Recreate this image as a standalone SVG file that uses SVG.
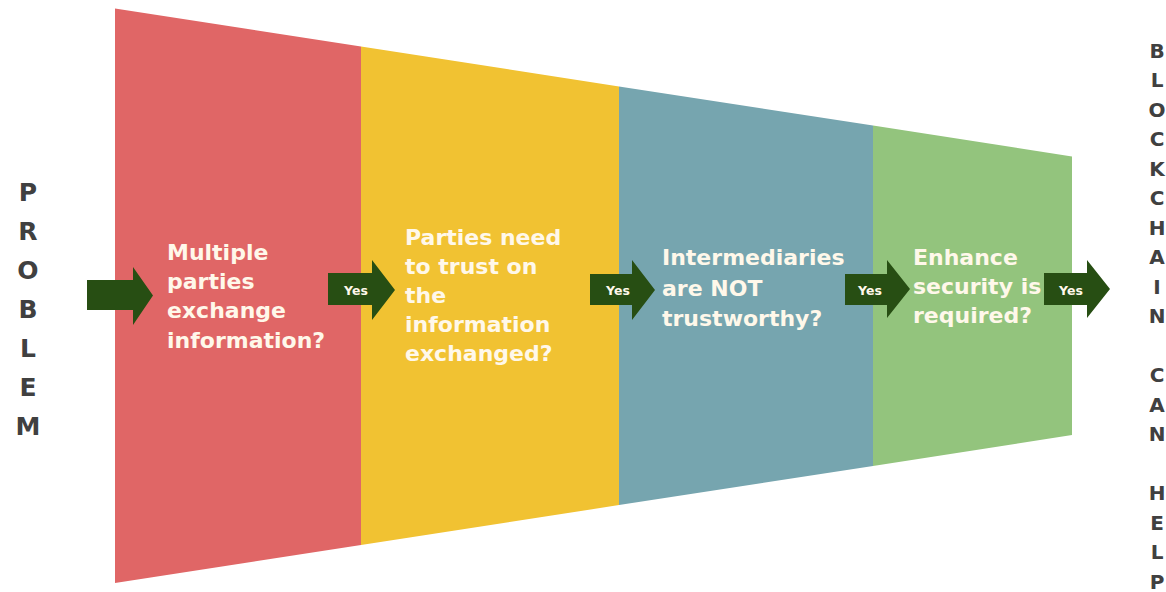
<svg xmlns="http://www.w3.org/2000/svg" width="1166" height="592" viewBox="0 0 1166 592">
<style>
.q{font-family:"DejaVu Sans","Liberation Sans",sans-serif;font-weight:bold;font-size:22px;fill:#FFF8EA}
.y{font-family:"DejaVu Sans","Liberation Sans",sans-serif;font-weight:bold;font-size:12.5px;fill:#FFF8EA;text-anchor:middle}
.side{font-family:"DejaVu Sans","Liberation Sans",sans-serif;font-weight:bold;fill:#404040;text-anchor:middle}
.arr{fill:#274E13}
</style>
<rect width="1166" height="592" fill="#ffffff"/>
<g id="stage1">
<polygon points="115,8.5 361,46.5 361,545 115,583" fill="#E06666"/>
<text class="q" x="167"><tspan x="167" y="260">Multiple</tspan><tspan x="167" y="289">parties</tspan><tspan x="167" y="318">exchange</tspan><tspan x="167" y="348">information?</tspan></text>
</g>
<g id="stage2">
<polygon points="361,46.5 619,86.4 619,505.1 361,545" fill="#F1C232"/>
<text class="q"><tspan x="405" y="245">Parties need</tspan><tspan x="405" y="274">to trust on</tspan><tspan x="405" y="303">the</tspan><tspan x="405" y="332">information</tspan><tspan x="405" y="361">exchanged?</tspan></text>
</g>
<g id="stage3">
<polygon points="619,86.4 873,125.6 873,465.9 619,505.1" fill="#76A5AF"/>
<text class="q"><tspan x="662" y="265">Intermediaries</tspan><tspan x="662" y="296">are NOT</tspan><tspan x="662" y="326">trustworthy?</tspan></text>
</g>
<g id="stage4">
<polygon points="873,125.6 1072,156.4 1072,435.1 873,465.9" fill="#93C47D"/>
<text class="q"><tspan x="913" y="265">Enhance</tspan><tspan x="913" y="294">security is</tspan><tspan x="913" y="323">required?</tspan></text>
</g>
<g id="problem">
<text class="side" font-size="25" x="28"><tspan x="28" y="201">P</tspan><tspan x="28" y="240">R</tspan><tspan x="28" y="279">O</tspan><tspan x="28" y="318">B</tspan><tspan x="28" y="357">L</tspan><tspan x="28" y="396">E</tspan><tspan x="28" y="435">M</tspan></text>
</g>
<g id="blockchain">
<text class="side" font-size="20"><tspan x="1157" y="57.5">B</tspan><tspan x="1157" y="87">L</tspan><tspan x="1157" y="116.5">O</tspan><tspan x="1157" y="146">C</tspan><tspan x="1157" y="175.5">K</tspan><tspan x="1157" y="205">C</tspan><tspan x="1157" y="234.5">H</tspan><tspan x="1157" y="264">A</tspan><tspan x="1157" y="293.5">I</tspan><tspan x="1157" y="323">N</tspan><tspan x="1157" y="382">C</tspan><tspan x="1157" y="411.5">A</tspan><tspan x="1157" y="441">N</tspan><tspan x="1157" y="500">H</tspan><tspan x="1157" y="529.5">E</tspan><tspan x="1157" y="559">L</tspan><tspan x="1157" y="588.5">P</tspan></text>
</g>
<g id="connectors">
<path class="arr" d="M87,280 H133 V267 L153,295.5 L133,325 V310 H87 Z"/>
<path class="arr" d="M328,273 H372 V260 L395,290 L372,320 V305 H328 Z"/>
<text class="y" x="356" y="294.5">Yes</text>
<path class="arr" d="M590,274 H632 V260 L655,290 L632,320 V305 H590 Z"/>
<text class="y" x="618" y="294.5">Yes</text>
<path class="arr" d="M845,274 H887 V260 L910,289 L887,318 V305 H845 Z"/>
<text class="y" x="870" y="294.5">Yes</text>
<path class="arr" d="M1044,273 H1087 V260 L1110,289 L1087,318 V305 H1044 Z"/>
<text class="y" x="1071" y="294.5">Yes</text>
</g>
</svg>
